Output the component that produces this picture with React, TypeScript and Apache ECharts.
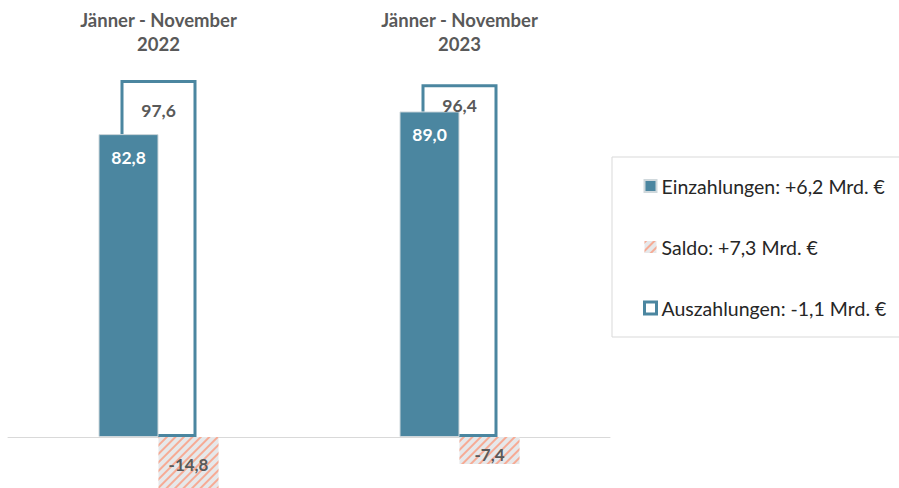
import React, { useEffect, useRef } from "react";
import * as echarts from "echarts";

const categories = ["Jänner - November\n2022", "Jänner - November\n2023"];
const einzahlungen = [82.8, 89.0];
const auszahlungen = [97.6, 96.4];
const saldo = [-14.8, -7.4];
const seriesNames = [
  "Einzahlungen: +6,2 Mrd. €",
  "Saldo: +7,3 Mrd. €",
  "Auszahlungen: -1,1 Mrd. €",
];

const TEAL = "#4b86a0";
const GRAY_TEXT = "#595959";
const FONT = "Lato, 'Open Sans', sans-serif";

const fmt = (p: any) => Number(p.value).toFixed(1).replace(".", ",");

export default function App() {
  const ref = useRef<HTMLDivElement>(null);
  useEffect(() => {
    if (!ref.current) return;
    const chart = echarts.init(ref.current, undefined, { renderer: "svg" });
    chart.setOption({
      animation: false,
      textStyle: { fontFamily: FONT },
      grid: {
        left: 8,
        width: 602,
        top: 71.2,
        height: 420.7,
        containLabel: false,
        outerBoundsMode: "none",
      },
      legend: {
        orient: "vertical",
        left: 612,
        top: 157,
        padding: [19, 40, 19, 31],
        itemGap: 41,
        itemWidth: 12,
        itemHeight: 12,
        icon: "rect",
        backgroundColor: "#fff",
        borderColor: "#d9d9d9",
        borderWidth: 1,
        borderRadius: 0,
        textStyle: { fontFamily: FONT, fontSize: 19.5, color: "#262626", lineHeight: 20 },
        data: [
          { name: seriesNames[0] },
          { name: seriesNames[1] },
          { name: seriesNames[2], itemStyle: { borderWidth: 3, borderColor: TEAL, color: "#fff" } },
        ],
      },
      xAxis: [
        {
          type: "category",
          data: categories,
          position: "top",
          axisLine: { show: false, onZero: false },
          axisTick: { show: false },
          splitLine: { show: false },
          axisLabel: {
            margin: 15,
            fontFamily: FONT,
            fontWeight: "bold",
            fontSize: 18.5,
            lineHeight: 24,
            color: GRAY_TEXT,
          },
        },
        {
          type: "category",
          data: categories,
          position: "bottom",
          axisLine: { show: true, onZero: true, lineStyle: { color: "#d9d9d9", width: 1 } },
          axisTick: { show: false },
          axisLabel: { show: false },
          splitLine: { show: false },
        },
      ],
      yAxis: {
        type: "value",
        min: -15,
        max: 100,
        show: false,
        splitLine: { show: false },
      },
      series: [
        {
          name: seriesNames[2],
          type: "bar",
          xAxisIndex: 0,
          barWidth: 76,
          data: auszahlungen.map((v, i) =>
            i === 0 ? { value: v, label: { offset: [0, 10] } } : v
          ),
          itemStyle: { color: "#ffffff", borderColor: TEAL, borderWidth: 3 },
          label: {
            show: true,
            position: "insideTop",
            distance: 12,
            formatter: fmt,
            fontFamily: FONT,
            fontWeight: "bold",
            fontSize: 17.5,
            color: GRAY_TEXT,
          },
        },
        {
          name: seriesNames[0],
          type: "bar",
          xAxisIndex: 1,
          barWidth: 60,
          barGap: "0%",
          data: einzahlungen,
          itemStyle: { color: TEAL, borderColor: "#cfd8dc", borderWidth: 1 },
          label: {
            show: true,
            position: "insideTop",
            distance: 14,
            formatter: fmt,
            fontFamily: FONT,
            fontWeight: "bold",
            fontSize: 17.5,
            color: "#ffffff",
          },
        },
        {
          name: seriesNames[1],
          type: "bar",
          xAxisIndex: 1,
          barWidth: 60,
          barGap: "0%",
          data: saldo.map((v, i) => (i === 1 ? { value: v, label: { offset: [0, 4] } } : v)),
          clip: false,
          itemStyle: {
            color: "#e6e8ea",
            decal: {
              symbol: "rect",
              symbolSize: 1,
              dashArrayX: [1, 0],
              dashArrayY: [2, 3.5],
              rotation: -Math.PI / 4,
              color: "#f6ab95",
            },
          },
          label: {
            show: true,
            position: "inside",
            formatter: fmt,
            fontFamily: FONT,
            fontWeight: "bold",
            fontSize: 17,
            color: GRAY_TEXT,
          },
        },
      ],
    });
    return () => chart.dispose();
  }, []);
  return (
    <div
      ref={ref}
      style={{ position: "absolute", left: 0, top: 0, width: 899, height: 488 }}
    />
  );
}
